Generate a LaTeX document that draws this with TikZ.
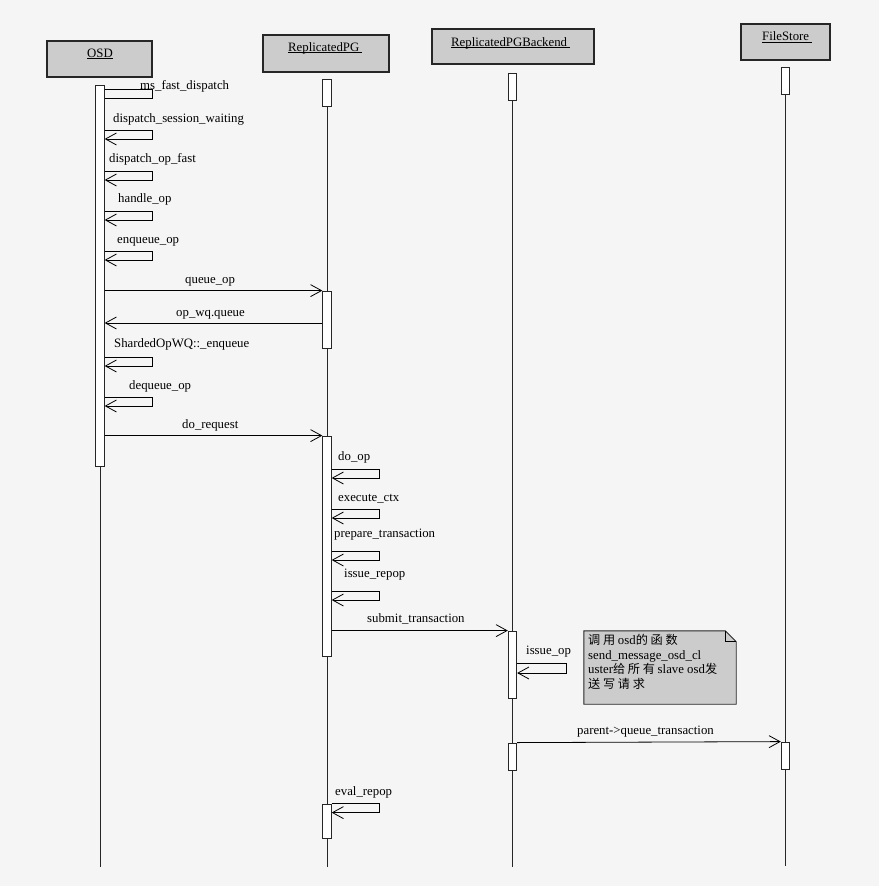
\documentclass[tikz,border=0pt]{standalone}
\usepackage{fontspec}
\setmainfont{Liberation Serif}
\newfontfamily\cjk[Scale=0.95]{Noto Sans CJK SC}
\usetikzlibrary{arrows.meta, positioning}

\begin{document}
\begin{tikzpicture}[
    x=1pt, y=-1pt,
    every node/.style={font=\fontsize{12.8}{14.7}\selectfont, inner sep=0pt},
    head/.style={draw=black!85, line width=1.1pt, fill=gray!40},
    objname/.style={anchor=base west},
    bar/.style={draw=black!85, line width=0.8pt, fill=white, minimum width=8.5pt},
    life/.style={draw=black!85, line width=0.8pt},
    msg/.style={-{Straight Barb[length=11pt,width=12pt]}, line width=0.8pt},
    call/.style={anchor=base west},
    notebox/.style={draw=black!85, line width=0.9pt, fill=gray!40}
]
\useasboundingbox (0,0) rectangle (879,886);
\fill[black!4] (0,0) rectangle (879,886);

% objects
\node[head, minimum width=105pt, minimum height=36pt] (osd) at (99.5,59) {};
\node[head, minimum width=126pt, minimum height=37pt] (pg) at (326,53.5) {};
\node[head, minimum width=162pt, minimum height=35pt] (be) at (513,46.5) {};
\node[head, minimum width=89pt, minimum height=36pt] (fs) at (785.5,42) {};
\node[objname] (osdname) at (87,57) {\underline{\smash{OSD}}};
\node[objname] (pgname) at (288,51) {\underline{\smash{ReplicatedPG~}}};
\node[objname] (bename) at (451,46) {\underline{\smash{ReplicatedPGBackend~}}};
\node[objname] (fsname) at (762,40.5) {\underline{\smash{FileStore~}}};

% lifelines
\coordinate (osdtop) at (100,85);   \coordinate (osdend) at (100,867);
\coordinate (pgtop) at (327,79);    \coordinate (pgend) at (327,867);
\coordinate (betop) at (512.5,73);  \coordinate (beend) at (512.5,867);
\coordinate (fstop) at (785.5,67);  \coordinate (fsend) at (785.5,866);
\draw[life] (osdtop) -- (osdend);
\draw[life] (pgtop) -- (pgend);
\draw[life] (betop) -- (beend);
\draw[life] (fstop) -- (fsend);

% activations
\node[bar, minimum height=381pt] (osdbar) at (100,275.5) {};
\node[bar, minimum height=27pt] (pg0) at (327,92.5) {};
\node[bar, minimum height=57pt] (pg1) at (327,319.5) {};
\node[bar, minimum height=220pt] (pg2) at (327,546) {};
\node[bar, minimum height=34pt] (pg3) at (327,821) {};
\node[bar, minimum height=27pt] (be0) at (512.5,86.5) {};
\node[bar, minimum height=67pt] (be1) at (512.5,664.5) {};
\node[bar, minimum height=27pt] (be2) at (512.5,756.5) {};
\node[bar, minimum height=27pt] (fs0) at (785.5,80.5) {};
\node[bar, minimum height=27pt] (fs1) at (785.5,755.5) {};

% calls on OSD
\draw[line width=0.8pt] (osdbar.east |- 0,89) -- ++(48,0) -- ++(0,9) -- ++(-48,0);
\node[call] (osdcall0) at (140,89) {ms\_fast\_dispatch};
\foreach \ty/\lx/\ly/\txt [count=\i] in {
    130/113/122/dispatch\_session\_waiting,
    171/109/162/dispatch\_op\_fast,
    211/118/202/handle\_op,
    251/117/243/enqueue\_op,
    357/114/347/ShardedOpWQ::\_enqueue,
    397/129/389/dequeue\_op}{
  \draw[msg] (osdbar.east |- 0,\ty) -- ++(48,0) -- ++(0,9) -- ++(-48,0);
  \node[call] (osdcall\i) at (\lx,\ly) {\txt};
}

% calls on ReplicatedPG
\foreach \ty/\lx/\ly/\txt [count=\i] in {
    469/338/460/do\_op,
    509/338/501/execute\_ctx,
    551/334/537/prepare\_transaction,
    591/344/577/issue\_repop}{
  \draw[msg] (pg2.east |- 0,\ty) -- ++(48,0) -- ++(0,9) -- ++(-48,0);
  \node[call] (pgcall\i) at (\lx,\ly) {\txt};
}
\draw[msg] (pg3.north east) -- ++(48,0) -- ++(0,9) -- ++(-48,0);
\node[call] (pgcall5) at (335,795) {eval\_repop};

% call on ReplicatedPGBackend
\draw[msg] (be1.east |- 0,663) -- ++(49,0) -- ++(0,10) -- ++(-49,0);
\node[call] (becall1) at (526,654) {issue\_op};

% messages
\coordinate (wq) at (0,323);
\draw[msg] (osdbar.east |- pg1.north) -- (pg1.north west);
\node[call] (queueop) at (185,283) {queue\_op};
\draw[msg] (pg1.west |- wq) -- (osdbar.east |- wq);
\node[call] (wqqueue) at (176,316) {op\_wq.queue};
\draw[msg] (osdbar.east |- pg2.north) -- (pg2.north west);
\node[call] (dorequest) at (182,428) {do\_request};
\draw[msg] (pg2.east |- be1.north) -- (be1.north west);
\node[call] (submit) at (367,622) {submit\_transaction};
\draw[msg] (be2.north east) -- (fs1.north west);
\node[call] (parentq) at (577,734) {parent->queue\_transaction};

% note
\node[minimum width=152pt, minimum height=73pt] (note) at (660,667.5) {};
\draw[notebox] (note.north west) -- ([xshift=-11pt]note.north east) -- ([yshift=-11pt]note.north east)
    -- (note.south east) -- (note.south west) -- cycle;
\draw[line width=0.8pt] ([xshift=-11pt]note.north east) |- ([yshift=-11pt]note.north east);
\node[anchor=north west, align=left] (notetext) at (588,634) {%
  {\cjk 调 用 }osd{\cjk 的 函 数}\\
  send\_message\_osd\_cl\\
  uster{\cjk 给 所 有 }slave osd{\cjk 发}\\
  {\cjk 送 写 请 求}};

\end{tikzpicture}
\end{document}
